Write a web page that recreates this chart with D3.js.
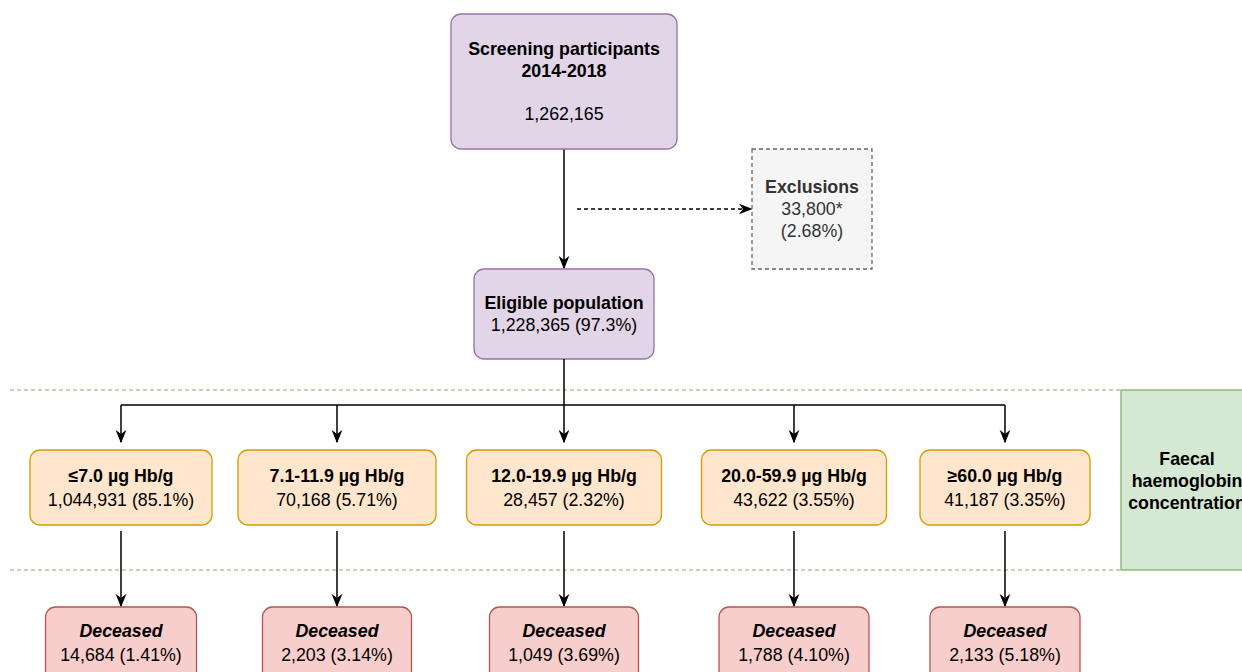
<!DOCTYPE html>
<html><head><meta charset="utf-8">
<script src="https://cdn.jsdelivr.net/npm/d3@7"></script>
<style>body{margin:0;background:#fff}text{font-family:"Liberation Sans",Arial,sans-serif;font-size:17.8px;fill:#000}</style>
</head><body><svg id="c" width="1242" height="672"></svg>
<script>
const categories=["≤7.0 µg Hb/g","7.1-11.9 µg Hb/g","12.0-19.9 µg Hb/g","20.0-59.9 µg Hb/g","≥60.0 µg Hb/g"];
const counts=["1,044,931","70,168","28,457","43,622","41,187"];
const pcts=["85.1%","5.71%","2.32%","3.55%","3.35%"];
const deceased=["14,684","2,203","1,049","1,788","2,133"];
const deceasedPct=["1.41%","3.14%","3.69%","4.10%","5.18%"];
// layout (centres and widths of the boxes)
const cx=[121,337,564,794,1005], fw=[182,198,195,185,170], dw=[151,149,149,150,150];

const svg=d3.select("#c");
const defs=svg.append("defs");
defs.append("marker").attr("id","ah").attr("viewBox","0 0 10 10").attr("refX",9).attr("refY",5)
 .attr("markerWidth",9).attr("markerHeight",9).attr("orient","auto")
 .append("path").attr("d","M0,1 L10,5 L0,9 L3,5 Z").attr("fill","#000");
function box(x,y,w,h,fill,stroke,opt={}){
 svg.append("rect").attr("x",x).attr("y",y).attr("width",w).attr("height",h).attr("rx",opt.rx??10)
  .attr("fill",fill).attr("stroke",stroke).attr("stroke-width",1.3).attr("stroke-dasharray",opt.dash||null);
}
function txt(x,y,s,opt={}){
 svg.append("text").attr("x",x).attr("y",y).attr("text-anchor","middle")
  .attr("font-weight",opt.b?"bold":null).attr("font-style",opt.i?"italic":null)
  .style("fill",opt.c||"#000").text(s);
}
function line(x1,y1,x2,y2,arrow,dash){
 svg.append("line").attr("x1",x1).attr("y1",y1).attr("x2",x2).attr("y2",y2)
  .attr("stroke","#000").attr("stroke-width",1.5).attr("stroke-dasharray",dash||null)
  .attr("marker-end",arrow?"url(#ah)":null);
}
[390,570].forEach(y=>svg.append("line").attr("x1",10).attr("x2",1121).attr("y1",y).attr("y2",y)
 .attr("stroke","#7fb05c").attr("stroke-dasharray","4,3").attr("stroke-width",1.2));
box(1121,390,140,180,"#d5e8d4","#82b366",{rx:0});
txt(1187,465,"Faecal",{b:1});txt(1187,487,"haemoglobin",{b:1});txt(1187,509,"concentration",{b:1});

line(564,149,564,268,true);
line(577,209,751,209,true,"4,3");
box(451,14,226,135,"#e1d5e7","#9673a6");
txt(564,55,"Screening participants",{b:1});txt(564,77,"2014-2018",{b:1});txt(564,120,"1,262,165");
box(752,149,120,120,"#f5f5f5","#666",{rx:0,dash:"4,3"});
txt(812,193,"Exclusions",{b:1,c:"#333"});txt(812,215,"33,800*",{c:"#333"});txt(812,237,"(2.68%)",{c:"#333"});
box(474,269,180,90,"#e1d5e7","#9673a6");
txt(564,309,"Eligible population",{b:1});txt(564,331,"1,228,365 (97.3%)");

line(564,359,564,405,false);
line(d3.min(cx),405,d3.max(cx),405,false);
categories.forEach((c,i)=>{
 line(cx[i],405,cx[i],442,true);
 box(cx[i]-fw[i]/2,450,fw[i],75,"#ffe6cc","#d79b00");
 txt(cx[i],482,c,{b:1});txt(cx[i],506,`${counts[i]} (${pcts[i]})`);
 line(cx[i],531,cx[i],606,true);
 box(cx[i]-dw[i]/2,607,dw[i],80,"#f8cecc","#b85450");
 txt(cx[i],637,"Deceased",{b:1,i:1});txt(cx[i],661,`${deceased[i]} (${deceasedPct[i]})`);
});
</script></body></html>
